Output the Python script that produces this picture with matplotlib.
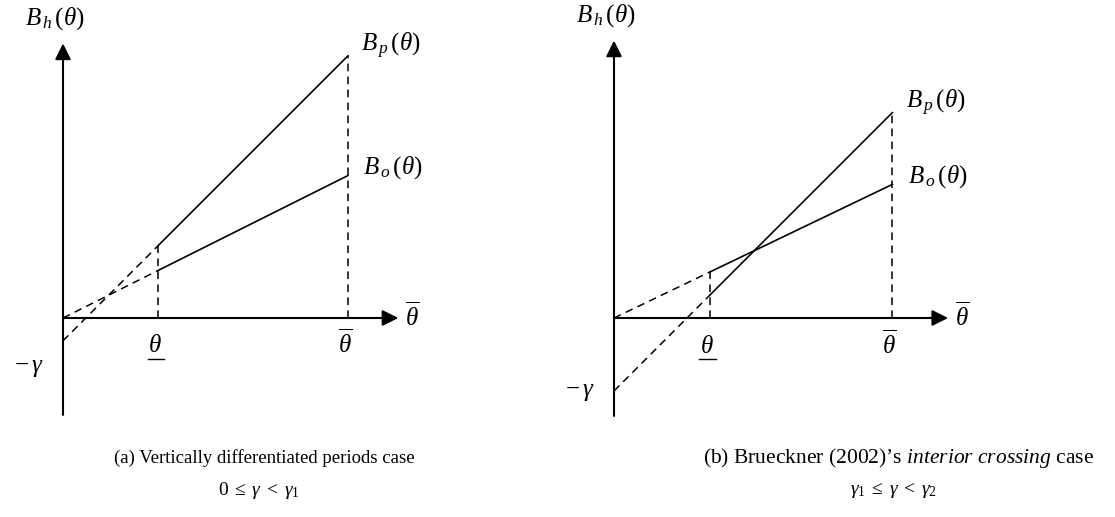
import numpy as np
import matplotlib
matplotlib.use('Agg')
import matplotlib.pyplot as plt

plt.rcParams['font.family'] = ['Liberation Serif', 'DejaVu Serif']
plt.rcParams['mathtext.fontset'] = 'custom'
plt.rcParams['mathtext.rm'] = 'Liberation Serif'
plt.rcParams['mathtext.it'] = 'Liberation Serif:italic'

# model values per panel: theta_low, theta_high, gamma, slopes of B_p and B_o
THETA_LOW = [1.0, 1.0]
THETA_HIGH = [3.0, 2.9]
GAMMA = [0.24, 0.76]
SLOPE_P = [1.0, 1.0]
SLOPE_O = [0.5, 0.48]
CAPTIONS = ['(a) Vertically differentiated periods case',
            '(b) Brueckner (2002)\u2019s $\\it{interior\\ crossing}$ case']
CONDITIONS = [r'$0 \;\leq\; \gamma \;<\; \gamma_1$', r'$\gamma_1 \;\leq\; \gamma \;<\; \gamma_2$']

# axes placement (fraction of figure) and unit scale in px
PANELS = [dict(rect=[0, 0, 0.5, 1], x0=63, y0=318, scale=95, x_end=3.53, gam_lab=-0.53,
               cap_x=0.475, cap_fs=13.5),
          dict(rect=[0.5, 0, 0.5, 1], x0=614 - 557.5, y0=318, scale=96, x_end=3.48, gam_lab=-0.77,
               cap_x=0.612, cap_fs=15.5)]

W, H = 1115, 517
fig = plt.figure(figsize=(W / 100, H / 100), dpi=100)

for i, p in enumerate(PANELS):
    ax = fig.add_axes(p['rect'])
    wpx = W * p['rect'][2]
    s = p['scale']
    ax.set_xlim(-p['x0'] / s, (wpx - p['x0']) / s)
    ax.set_ylim(-(H - p['y0']) / s, p['y0'] / s)
    ax.axis('off')

    tl, th, g = THETA_LOW[i], THETA_HIGH[i], GAMMA[i]
    bp = lambda t: -g + SLOPE_P[i] * t
    bo = lambda t: SLOPE_O[i] * t

    arrow = dict(arrowstyle='-|>', mutation_scale=24, lw=1.5, color='k',
                 shrinkA=0, shrinkB=0)
    ax.annotate('', xy=(0, 2.89), xytext=(0, -1.02), arrowprops=arrow)
    ax.annotate('', xy=(p['x_end'], 0), xytext=(0, 0), arrowprops=arrow)

    dash = (0, (5, 3.5))
    t_solid = np.array([tl, th])
    t_dash = np.array([0, tl])
    ax.plot(t_solid, bp(t_solid), color='k', lw=1.2)
    ax.plot(t_solid, bo(t_solid), color='k', lw=1.2)
    ax.plot(t_dash, bp(t_dash), color='k', lw=1.1, ls=dash)
    ax.plot(t_dash, bo(t_dash), color='k', lw=1.1, ls=dash)
    ax.plot([tl, tl], [0, max(bp(tl), bo(tl))], color='k', lw=1.1, ls=dash)
    ax.plot([th, th], [0, bp(th)], color='k', lw=1.1, ls=dash)

    fs = 18
    ax.text(-0.4, 3.15, r'$B_{\,h}\,(\theta)$', fontsize=fs, va='center', ha='left')
    ax.text(th + 0.14, bp(th) + 0.1, r'$B_{\,p}\,(\theta)$', fontsize=fs, va='center', ha='left')
    ax.text(th + 0.16, bo(th) + 0.08, r'$B_{\,o}\,(\theta)$', fontsize=fs, va='center', ha='left')
    ax.text(p['x_end'] + 0.07, 0.02, r'$\overline{\theta}$', fontsize=fs, va='center', ha='left')
    ax.text(th - 0.03, -0.27, r'$\overline{\theta}$', fontsize=fs, va='center', ha='center')
    ax.text(tl - 0.03, -0.3, r'$\theta$', fontsize=fs, va='center', ha='center')
    ax.plot([tl - 0.11, tl + 0.06], [-0.43, -0.43], color='k', lw=1.0)
    ax.text(-0.2, p['gam_lab'], r'$-\,\gamma$', fontsize=fs, va='center', ha='right')

    ax.text(p['cap_x'], 0.115, CAPTIONS[i], fontsize=p['cap_fs'], ha='center', va='center',
            transform=ax.transAxes)
    ax.text(p['cap_x'] - 0.01, 0.052, CONDITIONS[i], fontsize=14, ha='center', va='center',
            transform=ax.transAxes)

fig.savefig('out.png', dpi=100)
